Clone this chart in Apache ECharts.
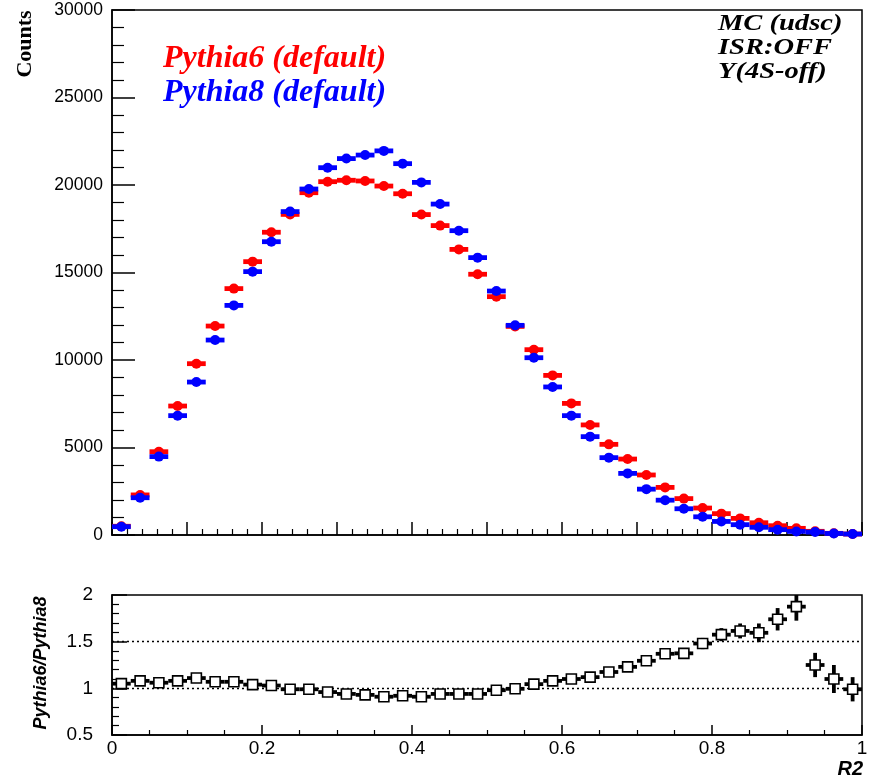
<!DOCTYPE html>
<html>
<head>
<meta charset="utf-8">
<title>R2 distribution: Pythia6 vs Pythia8</title>
<script src="https://cdn.jsdelivr.net/npm/echarts@6/dist/echarts.min.js"></script>
<style>
  html, body { margin: 0; padding: 0; background: #ffffff; }
  #chart { width: 871px; height: 777px; }
</style>
</head>
<body>
<div id="chart"></div>
<script>
// Histogram binning of R2 in [0, 1]
const BIN_WIDTH = 0.025;

// Event counts per bin
const pythia6Counts = [
  500, 2290, 4760, 7370, 9790, 11940, 14080, 15620, 17300, 18320,
  19560, 20190, 20270, 20230, 19940, 19500, 18310, 17680, 16320, 14900,
  13620, 11920, 10590, 9120, 7520, 6290, 5180, 4340, 3430, 2720,
  2080, 1540, 1220, 950, 700, 530, 380, 210, 95, 55
];
const pythia8Counts = [
  475, 2130, 4480, 6820, 8740, 11140, 13120, 15050, 16760, 18480,
  19770, 20990, 21510, 21710, 21950, 21220, 20150, 18910, 17390, 15850,
  13940, 11980, 10130, 8460, 6820, 5620, 4420, 3520, 2620, 1990,
  1500, 1040, 775, 590, 440, 305, 205, 168, 87, 56
];

// Ratio Pythia6/Pythia8 per bin and its uncertainty
const ratioValues = [
  1.05, 1.08, 1.06, 1.08, 1.11, 1.07, 1.07, 1.04, 1.03, 0.99,
  0.99, 0.96, 0.94, 0.93, 0.91, 0.92, 0.91, 0.94, 0.94, 0.94,
  0.98, 0.995, 1.045, 1.08, 1.10, 1.12, 1.175, 1.23, 1.295, 1.37,
  1.375, 1.48, 1.575, 1.615, 1.595, 1.74, 1.875, 1.25, 1.10, 0.99
];
const ratioErrors = [
  0.06, 0.03, 0.02, 0.02, 0.015, 0.015, 0.015, 0.015, 0.015, 0.015,
  0.015, 0.015, 0.015, 0.015, 0.015, 0.015, 0.015, 0.015, 0.015, 0.015,
  0.015, 0.015, 0.015, 0.02, 0.02, 0.02, 0.025, 0.03, 0.035, 0.04,
  0.05, 0.06, 0.07, 0.08, 0.10, 0.12, 0.15, 0.13, 0.15, 0.13
];

// Reference levels drawn as dotted lines in the ratio panel
const ratioGuides = [1, 1.5];

// Axis ranges
const COUNTS_MIN = 0, COUNTS_MAX = 30000, COUNTS_STEP = 5000;
const RATIO_MIN = 0.5, RATIO_MAX = 2, RATIO_STEP = 0.5;

const SANS = "'Liberation Sans', Arial, Helvetica, sans-serif";
const SERIF = "'Liberation Serif', 'Times New Roman', serif";

function binCenter(i) { return (i + 0.5) * BIN_WIDTH; }

const p6Data = pythia6Counts.map((v, i) => [binCenter(i), v]);
const p8Data = pythia8Counts.map((v, i) => [binCenter(i), v]);
const ratioData = ratioValues.map((v, i) => [binCenter(i), v, ratioErrors[i]]);

// Filled circle with a horizontal bar spanning the bin width
function countsMarker(color) {
  return function (params, api) {
    const x = api.value(0), y = api.value(1);
    const c = api.coord([x, y]);
    const l = api.coord([x - BIN_WIDTH / 2, y]);
    const r = api.coord([x + BIN_WIDTH / 2, y]);
    return {
      type: 'group',
      children: [
        { type: 'rect', shape: { x: l[0], y: c[1] - 2.4, width: r[0] - l[0], height: 4.8 }, style: { fill: color } },
        { type: 'circle', shape: { cx: c[0], cy: c[1], r: 5 }, style: { fill: color } }
      ]
    };
  };
}

// Open square with horizontal (bin width) and vertical (uncertainty) bars
function ratioMarker(params, api) {
  const x = api.value(0), y = api.value(1), e = api.value(2);
  const c = api.coord([x, y]);
  const l = api.coord([x - BIN_WIDTH / 2, y]);
  const r = api.coord([x + BIN_WIDTH / 2, y]);
  const top = api.coord([x, Math.min(y + e, RATIO_MAX)]);
  const bot = api.coord([x, Math.max(y - e, RATIO_MIN)]);
  const s = 10;
  return {
    type: 'group',
    children: [
      { type: 'rect', shape: { x: l[0], y: c[1] - 1.9, width: r[0] - l[0], height: 3.8 }, style: { fill: '#000' } },
      { type: 'rect', shape: { x: c[0] - 1.9, y: top[1], width: 3.8, height: bot[1] - top[1] }, style: { fill: '#000' } },
      { type: 'rect', shape: { x: c[0] - s / 2, y: c[1] - s / 2, width: s, height: s }, style: { fill: '#fff', stroke: '#000', lineWidth: 1.6 } }
    ]
  };
}

const chart = echarts.init(document.getElementById('chart'), null, { renderer: 'canvas' });

const axisLineStyle = { color: '#000', width: 1.5 };
const plainNumber = v => String(Math.round(v * 10) / 10);

chart.setOption({
  animation: false,
  backgroundColor: '#ffffff',
  grid: [
    { left: 112, top: 10, width: 750, height: 525, show: true, borderColor: '#000', borderWidth: 1.5, backgroundColor: 'transparent' },
    { left: 112, top: 595, width: 750, height: 140, show: true, borderColor: '#000', borderWidth: 1.5, backgroundColor: 'transparent' }
  ],
  xAxis: [
    {
      type: 'value', gridIndex: 0, min: 0, max: 1, interval: 0.1,
      axisLine: { show: true, onZero: false, lineStyle: axisLineStyle },
      axisTick: { show: true, inside: true, length: 13, lineStyle: { color: '#000', width: 1.5 } },
      minorTick: { show: true, splitNumber: 5, length: 6, lineStyle: { color: '#000', width: 1.2 } },
      axisLabel: { show: false },
      splitLine: { show: false }
    },
    {
      type: 'value', gridIndex: 1, min: 0, max: 1, interval: 0.2,
      axisLine: { show: true, onZero: false, lineStyle: axisLineStyle },
      axisTick: { show: true, inside: true, length: 10, lineStyle: { color: '#000', width: 1.5 } },
      minorTick: { show: true, splitNumber: 4, length: 5, lineStyle: { color: '#000', width: 1.2 } },
      axisLabel: {
        show: true, margin: 4, color: '#000', fontSize: 19, fontFamily: SANS,
        showMinLabel: true, showMaxLabel: true, formatter: plainNumber
      },
      splitLine: { show: false }
    }
  ],
  yAxis: [
    {
      type: 'value', gridIndex: 0, min: COUNTS_MIN, max: COUNTS_MAX, interval: COUNTS_STEP,
      axisLine: { show: true, onZero: false, lineStyle: axisLineStyle },
      axisTick: { show: true, inside: true, length: 23, lineStyle: { color: '#000', width: 1.5 } },
      minorTick: { show: true, splitNumber: 5, length: 12, lineStyle: { color: '#000', width: 1.2 } },
      axisLabel: {
        show: true, margin: 9, color: '#000', fontSize: 17.5, fontFamily: SANS,
        showMinLabel: true, showMaxLabel: true, formatter: v => String(v)
      },
      splitLine: { show: false }
    },
    {
      type: 'value', gridIndex: 1, min: RATIO_MIN, max: RATIO_MAX, interval: RATIO_STEP,
      axisLine: { show: true, onZero: false, lineStyle: axisLineStyle },
      axisTick: { show: true, inside: true, length: 15, lineStyle: { color: '#000', width: 1.5 } },
      minorTick: { show: true, splitNumber: 5, length: 7, lineStyle: { color: '#000', width: 1.2 } },
      axisLabel: {
        show: true, margin: 19, color: '#000', fontSize: 19, fontFamily: SANS,
        showMinLabel: true, showMaxLabel: true, formatter: plainNumber
      },
      splitLine: { show: false }
    }
  ],
  series: [
    {
      name: 'Pythia6 (default)', type: 'custom', xAxisIndex: 0, yAxisIndex: 0,
      renderItem: countsMarker('#ff0000'), data: p6Data, encode: { x: 0, y: 1 }, z: 3
    },
    {
      name: 'Pythia8 (default)', type: 'custom', xAxisIndex: 0, yAxisIndex: 0,
      renderItem: countsMarker('#0000ff'), data: p8Data, encode: { x: 0, y: 1 }, z: 4
    },
    {
      name: 'guides', type: 'line', xAxisIndex: 1, yAxisIndex: 1, data: [], z: 2,
      markLine: {
        silent: true, symbol: 'none', animation: false,
        label: { show: false },
        lineStyle: { color: '#000', width: 1.3, type: [2, 3] },
        data: ratioGuides.map(v => ({ yAxis: v }))
      }
    },
    {
      name: 'Pythia6/Pythia8', type: 'custom', xAxisIndex: 1, yAxisIndex: 1,
      renderItem: ratioMarker, data: ratioData, encode: { x: 0, y: 1 }, z: 5
    }
  ],
  graphic: [
    {
      type: 'text', x: 25, y: 44, rotation: Math.PI / 2,
      style: { text: 'Counts', fill: '#000', font: "bold 22px " + SERIF, textAlign: 'center', textVerticalAlign: 'middle' }
    },
    {
      type: 'text', x: 163, y: 59,
      style: { text: 'Pythia6 (default)', fill: '#ff0000', font: "italic bold 32px " + SERIF, textAlign: 'left', textVerticalAlign: 'middle' }
    },
    {
      type: 'text', x: 163, y: 93,
      style: { text: 'Pythia8 (default)', fill: '#0000ff', font: "italic bold 32px " + SERIF, textAlign: 'left', textVerticalAlign: 'middle' }
    },
    {
      type: 'text', x: 718, y: 24, scaleX: 1.24,
      style: { text: 'MC (udsc)', fill: '#000', font: "italic bold 23px " + SERIF, textAlign: 'left', textVerticalAlign: 'middle' }
    },
    {
      type: 'text', x: 718, y: 48, scaleX: 1.24,
      style: { text: 'ISR:OFF', fill: '#000', font: "italic bold 23px " + SERIF, textAlign: 'left', textVerticalAlign: 'middle' }
    },
    {
      type: 'text', x: 718, y: 72, scaleX: 1.24,
      style: { text: 'Y(4S-off)', fill: '#000', font: "italic bold 23px " + SERIF, textAlign: 'left', textVerticalAlign: 'middle' }
    },
    {
      type: 'text', x: 41, y: 663, rotation: Math.PI / 2,
      style: { text: 'Pythia6/Pythia8', fill: '#000', font: "italic bold 18px " + SANS, textAlign: 'center', textVerticalAlign: 'middle' }
    },
    {
      type: 'text', x: 863, y: 769,
      style: { text: 'R2', fill: '#000', font: "italic bold 20px " + SANS, textAlign: 'right', textVerticalAlign: 'middle' }
    }
  ]
});
</script>
</body>
</html>
